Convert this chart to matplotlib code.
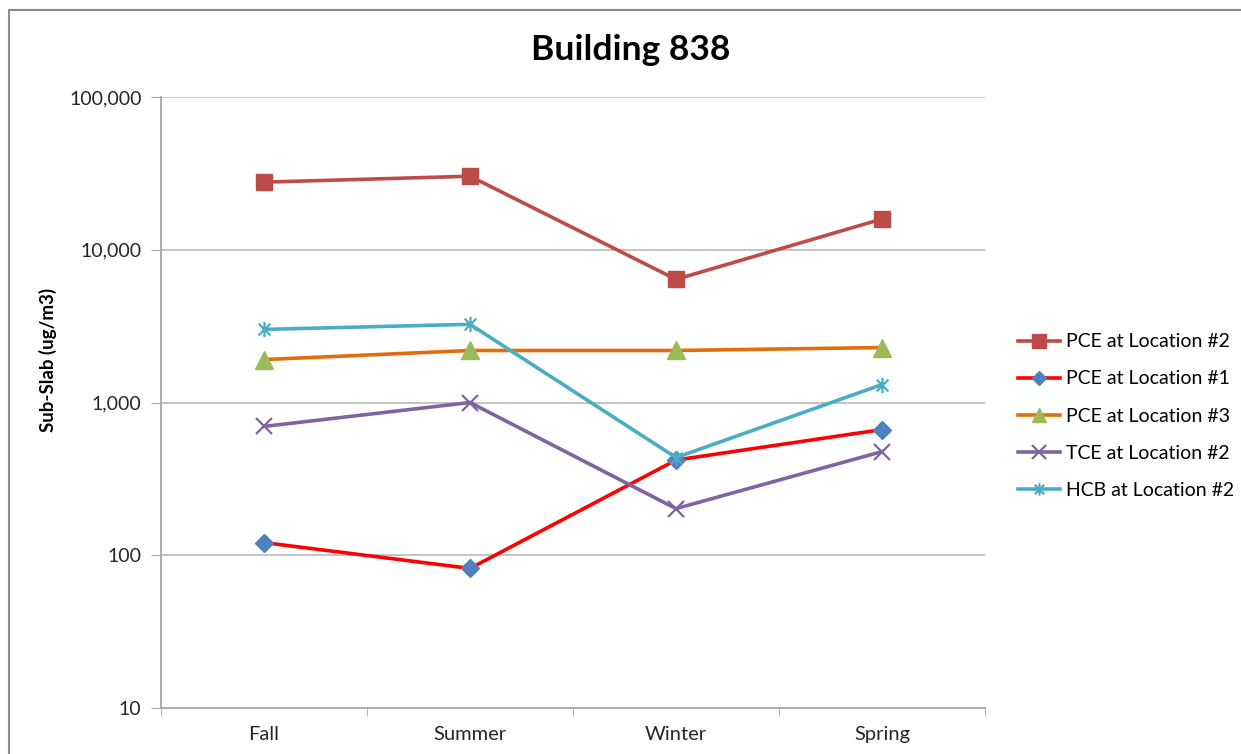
import numpy as np
import matplotlib.pyplot as plt
from matplotlib.path import Path
from matplotlib.lines import Line2D
from matplotlib.ticker import FixedLocator, FuncFormatter, NullLocator

plt.rcParams['font.family'] = ['Lato', 'DejaVu Sans']

# data
seasons = ['Fall', 'Summer', 'Winter', 'Spring']
pce_loc2 = [27700, 30300, 6400, 15900]
pce_loc1 = [121, 82, 420, 665]
pce_loc3 = [1910, 2190, 2190, 2290]
tce_loc2 = [697, 1000, 202, 477]
hcb_loc2 = [3010, 3250, 436, 1310]

labels = ['PCE at Location #2', 'PCE at Location #1', 'PCE at Location #3',
          'TCE at Location #2', 'HCB at Location #2']

# excel style star marker: an x with a vertical stroke
star = Path([(-1, -1), (1, 1), (-1, 1), (1, -1), (0, -1.3), (0, 1.3)],
            [Path.MOVETO, Path.LINETO, Path.MOVETO, Path.LINETO, Path.MOVETO, Path.LINETO])

styles = [
    dict(color='#BE4B48', marker='s', ms=12, mfc='#BE4B48', mec='#BE4B48'),
    dict(color='#FF0000', marker='D', ms=9, mfc='#4F81BD', mec='#4F81BD'),
    dict(color='#E46C0A', marker='^', ms=13, mfc='#9BBB59', mec='#9BBB59'),
    dict(color='#8064A2', marker='x', ms=12, mew=1.6, mec='#8064A2'),
    dict(color='#4BACC6', marker=star, ms=11, mew=1.6, mec='#4BACC6'),
]
series = [pce_loc2, pce_loc1, pce_loc3, tce_loc2, hcb_loc2]

fig = plt.figure(figsize=(12.41, 7.54), dpi=100)
# chart frame, only the left and top edges are inside the picture
fx, fy = 9 / 1241, 1 - 10 / 754
fig.add_artist(Line2D([fx, fx, 1.0], [0.0, fy, fy], transform=fig.transFigure,
                      color='#8C8C8C', linewidth=1.5))

ax = fig.add_axes([161 / 1241, 1 - 708 / 754, 824 / 1241, 611 / 754])
x = np.arange(1, len(seasons) + 1)
lines = []
for vals, lab, st in zip(series, labels, styles):
    ln, = ax.plot(x, vals, linewidth=2.6, label=lab, **st)
    lines.append(ln)

ax.set_yscale('log')
ax.set_ylim(10, 100000)
ax.set_xlim(0.5, len(seasons) + 0.5)
ax.yaxis.set_major_locator(FixedLocator([10, 100, 1000, 10000, 100000]))
ax.yaxis.set_minor_locator(NullLocator())
ax.yaxis.set_major_formatter(FuncFormatter(lambda v, p: '{:,.0f}'.format(v)))
ax.set_xticks(x)
ax.set_xticklabels(seasons)
ax.set_xticks(np.arange(0.5, len(seasons) + 1), minor=True)
ax.tick_params(axis='x', which='major', length=0, pad=13, labelsize=14.5, colors='#262626')
ax.tick_params(axis='x', which='minor', length=6, color='#A6A6A6', direction='out')
ax.tick_params(axis='y', length=7, color='#A6A6A6', pad=7, labelsize=14, labelcolor='#262626')
ax.grid(axis='y', color='#BFBFBF', linewidth=1.3)
ax.set_axisbelow(True)
for s in ['top', 'right']:
    ax.spines[s].set_visible(False)
for s in ['left', 'bottom']:
    ax.spines[s].set_color('#A6A6A6')
    ax.spines[s].set_linewidth(1.3)

fig.text(48 / 1241, 1 - 360 / 754, 'Sub-Slab (ug/m3)', rotation=90, ha='center', va='center',
         fontsize=13.5, fontweight='bold')
fig.text(631 / 1241, 1 - 50 / 754, 'Building 838', ha='center', va='center',
         fontsize=25.5, fontweight='bold')

fig.legend(handles=lines, loc='center left', bbox_to_anchor=(1000 / 1241, 1 - 416 / 754),
           frameon=False, fontsize=14, handlelength=2.2, labelspacing=1.03,
           handletextpad=0.3, markerscale=0.8)

fig.savefig('out.png', dpi=100)
